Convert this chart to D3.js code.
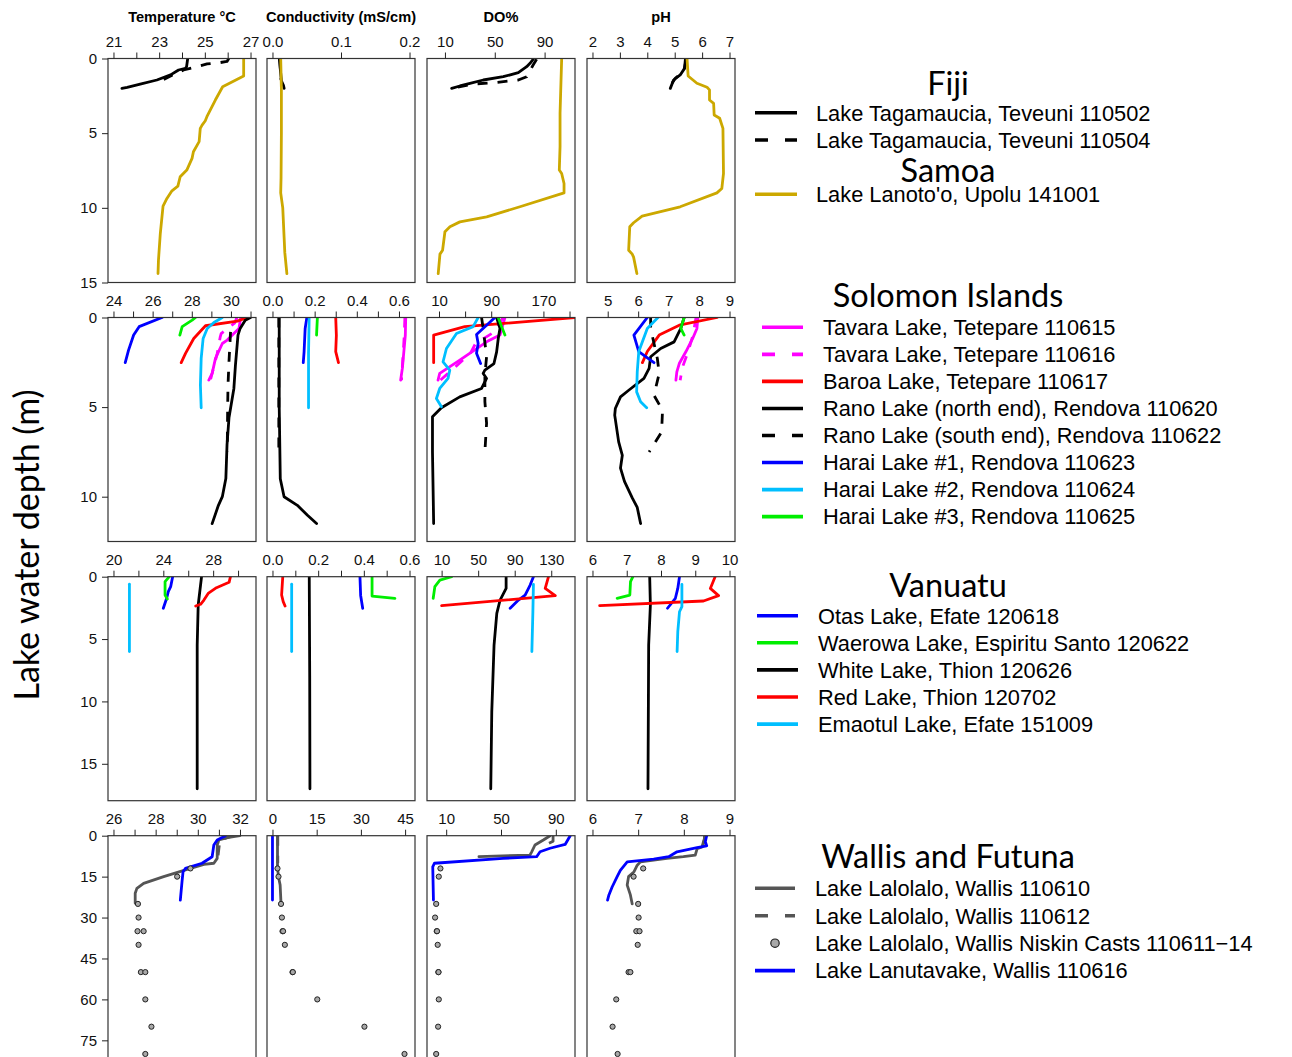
<!DOCTYPE html>
<html>
<head>
<meta charset="utf-8">
<script src="https://cdn.jsdelivr.net/npm/d3@7"></script>
<style>
  body { margin: 0; background: #fff; }
  svg { display: block; }
</style>
</head>
<body>
<svg id="chart" width="1292" height="1057"></svg>
<script>
// ---------------------------------------------------------------
// Depth profiles: each array holds [depth (m), value] pairs.
// Variables per lake: temperature (°C), conductivity, DO (%), pH
// ---------------------------------------------------------------

// ---- Fiji / Samoa ----
const tag502Temp = [[0,24.25],[0.55,24.2],[0.66,24.15],[0.77,23.85],[1.1,23.5],[1.44,22.9],[1.71,22.17],[1.93,21.6],[2.0,21.37]];
const tag502Cond = [[0,0.010],[1.5,0.013],[1.8,0.016],[2.0,0.017]];
const tag502DO   = [[0.05,80.9],[0.32,78.3],[0.55,75.6],[0.95,68.9],[1.22,56.8],[1.44,40.8],[1.66,30.1],[1.84,22],[2.0,15.4]];
const tag502pH   = [[0.05,5.39],[0.66,5.36],[1.1,5.2],[1.44,4.96],[2.0,4.84]];

const tag504Temp = [[0,26.05],[0.2,25.97],[0.27,25.68],[0.36,25.1],[0.55,24.66],[0.77,24.07],[1.1,23.6],[1.4,23.2]];
const tag504Cond = [[0,0.011],[1.4,0.012]];
const tag504DO   = [[0.05,83.6],[0.42,80.9],[1.22,75.6],[1.44,68.9],[1.6,51.5],[1.71,32.7],[1.93,19.4]];
const tag504pH   = [[0.05,5.42],[0.88,5.33],[1.33,5.02],[1.66,4.9]];

const lanotooTemp = [[0,26.7],[1.17,26.7],[1.89,25.78],[2.78,25.46],[3.9,25.09],[4.17,25.02],[4.46,24.88],[4.68,24.8],[5.57,24.75],[6.24,24.5],[6.69,24.44],[7.47,24.21],[7.92,23.92],[8.55,23.82],[8.86,23.56],[9.37,23.34],[9.89,23.17],[11.72,23.05],[13.5,22.97],[14.4,22.95]];
const lanotooCond = [[0,0.012],[2,0.013],[5,0.013],[8,0.0125],[9,0.012],[10,0.015],[12,0.017],[13,0.018],[14.4,0.021]];
const lanotooDO   = [[0,103.7],[3.67,102.4],[5.9,102.4],[7.47,101.8],[7.7,103.7],[8.37,105.6],[9.0,105.6],[9.93,70.2],[10.6,43.5],[10.94,22],[11.27,14],[11.6,10],[12.84,8.1],[13.1,6],[14.4,4.6]];
const lanotoopH   = [[0,5.45],[1.17,5.49],[1.66,5.81],[1.93,6.18],[2.1,6.27],[2.78,6.27],[3.0,6.42],[3.78,6.44],[4.0,6.64],[4.68,6.76],[7.7,6.78],[8.7,6.72],[9.0,6.54],[9.93,5.2],[10.56,3.81],[11.0,3.5],[11.27,3.36],[12.84,3.32],[13.1,3.45],[13.3,3.5],[14.4,3.62]];

// ---- Solomon Islands ----
const tav615Temp = [[0,30.5],[0.61,30.41],[1.26,29.81],[1.45,29.56],[2.28,29.21],[3.12,29.04],[3.49,28.87]];
const tav615Cond = [[0,0.632],[1,0.63],[2.84,0.616],[3.49,0.608]];
const tav615DO   = [[0,111],[0.98,103.4],[1.36,82.9],[2.38,41.8],[3.12,11.1],[3.49,8.5]];
const tav615pH   = [[0,7.96],[0.61,7.93],[1.17,7.79],[1.9,7.57],[2.57,7.35],[3.03,7.27],[3.49,7.24]];

const tav616Temp = [[0,30.3],[0.3,30.2],[0.9,29.5],[1.1,29.45],[2,29.3],[3.5,28.95]];
const tav616Cond = [[0,0.628],[1,0.625],[2,0.62],[3.5,0.612]];
const tav616DO   = [[0,108],[0.8,95],[1.45,66],[2.0,58],[2.6,40],[3.5,12]];
const tav616pH   = [[0,7.9],[1,7.8],[2.0,7.62],[2.8,7.45],[3.5,7.38]];

const baroaTemp = [[0,30.84],[0.2,30.33],[0.46,28.7],[1.17,28.1],[2.0,27.68],[2.52,27.46]];
const baroaCond = [[0,0.3],[1,0.303],[1.9,0.3],[2.52,0.313]];
const baroaDO   = [[0,218],[0.51,49.5],[0.98,1.8],[2.52,1.8]];
const baroapH   = [[0,8.59],[0.43,7.35],[0.98,6.69],[1.9,6.3],[2.52,6.14]];

const ranoNTemp = [[0,31.0],[0.15,30.73],[0.61,30.47],[0.98,30.36],[2.66,30.23],[3.96,30.15],[5.6,29.9],[7.1,29.8],[8.99,29.74],[10,29.56],[10.48,29.36],[11.5,29.04]];
const ranoNCond = [[0,0.032],[5,0.032],[9,0.037],[10,0.055],[10.48,0.118],[11.04,0.166],[11.5,0.209]];
const ranoNDO   = [[0,98.3],[0.61,103.4],[1.17,100.8],[1.92,98.3],[2.57,94.2],[2.94,80.3],[3.12,77.7],[3.4,82.9],[3.96,75.2],[4.43,41.8],[5.04,13.7],[5.54,0],[7.5,0],[11.5,1.8]];
const ranoNpH   = [[0,7.51],[0.61,7.4],[1.36,7.18],[1.73,6.74],[2.19,6.41],[2.84,6.36],[3.4,6.19],[4.06,5.69],[4.43,5.42],[5.08,5.25],[5.45,5.23],[6.94,5.36],[7.69,5.48],[8.4,5.42],[9.15,5.55],[10.08,5.81],[10.6,5.97],[11.5,6.08]];

const ranoSTemp = [[0.8,29.98],[2.47,29.9],[3.77,29.85],[5.27,29.83],[7.5,29.81]];
const ranoSCond = [[0,0.03],[7.5,0.03]];
const ranoSDO   = [[0,75.2],[0.61,77.7],[2.19,82.9],[3.21,80.3],[4.7,80.3],[5.9,82.9],[7.5,80.3]];
const ranoSpH   = [[0,6.41],[0.61,6.41],[2.29,6.63],[3.12,6.69],[4.34,6.52],[5.18,6.8],[6.39,6.77],[7.5,6.36]];

const harai1Temp = [[0,26.48],[0.51,25.31],[0.98,25.03],[1.82,24.77],[2.52,24.6]];
const harai1Cond = [[0,0.163],[0.61,0.155],[1.9,0.15],[2.52,0.146]];
const harai1DO   = [[0,95.7],[0.43,82.9],[0.95,67.5],[1.45,70],[2.0,67.5],[2.57,73.7]];
const harai1pH   = [[0,6.3],[0.98,5.86],[1.9,6.02],[2.52,6.52]];

const harai2Temp = [[0,29.56],[0.28,29.13],[0.61,28.79],[1.17,28.58],[2.28,28.48],[3.77,28.44],[5.04,28.48]];
const harai2Cond = [[0,0.174],[2,0.171],[5.04,0.171]];
const harai2DO   = [[0,70],[0.51,62.3],[0.89,36.8],[1.73,21.4],[2.47,16.2],[2.94,26.5],[3.4,23.8],[3.96,11.1],[4.52,6],[4.98,13.7]];
const harai2pH   = [[0,6.65],[0.61,6.3],[1.9,6.02],[3.03,5.97],[4.15,5.95],[4.7,6.08],[5.04,6.28]];

const harai3Temp = [[0,28.19],[0.15,28.02],[0.51,27.51],[0.98,27.39]];
const harai3Cond = [[0,0.213],[0.98,0.209]];
const harai3DO   = [[0,100.8],[0.51,106],[0.98,111]];
const harai3pH   = [[0,7.51],[0.61,7.4],[0.98,7.51]];

// ---- Vanuatu ----
const otasTemp = [[0,24.75],[0.8,24.59],[1.2,24.4],[1.73,24.27],[2.53,24.0]];
const otasCond = [[0,0.383],[1.5,0.386],[2.53,0.395]];
const otasDO   = [[0,110.5],[0.67,106.9],[1.47,101.4],[1.87,94.1],[2.53,85]];
const otaspH   = [[0,8.54],[0.94,8.49],[1.73,8.42],[2.53,8.19]];

const waerowaTemp = [[0,24.48],[0.4,24.14],[1.47,24.14],[1.79,24.32]];
const waerowaCond = [[0,0.436],[1.55,0.436],[1.74,0.536]];
const waerowaDO   = [[0,21],[0.27,8.1],[0.8,2.6],[1.73,0.8]];
const waerowapH   = [[0,7.18],[0.4,7.11],[1.47,7.09],[1.73,6.72]];

const whiteTemp = [[0,27.07],[2.27,26.8],[5.48,26.72],[17,26.72]];
const whiteCond = [[0,0.161],[8,0.163],[17,0.164]];
const whiteDO   = [[0,80.6],[0.94,80.6],[1.87,74],[2.94,70.4],[5.48,67.4],[10.83,64.9],[17,63.8]];
const whitepH   = [[0,7.67],[2.27,7.69],[5.48,7.64],[17,7.62]];

const redLakeTemp = [[0,29.39],[0.45,29.28],[0.88,28.27],[1.34,27.6],[1.87,27.26],[2.21,26.99],[2.35,26.6]];
const redLakeCond = [[0,0.045],[1.47,0.04],[2.0,0.047],[2.35,0.055]];
const redLakeDO   = [[0,127],[0.94,123.4],[1.52,134.4],[2.32,10]];
const redLakepH   = [[0,9.58],[0.94,9.44],[1.52,9.68],[1.95,9.24],[2.32,6.21]];

const emaotulTemp = [[0.6,21.28],[6.0,21.28]];
const emaotulCond = [[0.6,0.084],[6.0,0.084]];
const emaotulDO   = [[0.61,110.5],[2.81,109.9],[6.0,108.8]];
const emaotulpH   = [[0.61,8.61],[2.4,8.61],[2.81,8.54],[4.41,8.49],[6.0,8.47]];

// ---- Wallis and Futuna ----
const lalo610Temp = [[0,32.0],[0.73,31.4],[1.58,31.0],[3.41,30.92],[8.3,30.92],[10.1,30.76],[10.5,30.29],[12.0,29.65],[15.0,28.38],[17.45,27.43],[19.3,27.11],[21.1,27.03],[24.8,27.03]];
const lalo610Cond = [[0,1.7],[12,1.7],[15.7,2.15],[18.1,2.6],[24.8,2.9]];
const lalo610DO   = [[0,85.8],[1.58,80.9],[3.41,74.8],[5.9,72.4],[7.1,71.1],[7.7,33.9]];
const lalo610pH   = [[0,8.47],[2.2,8.43],[4.1,8.4],[4.8,8.29],[7.1,8.25],[7.7,7.99],[8.3,7.63],[9.6,7.05],[10.8,6.98],[13.2,6.91],[15.0,6.79],[18.1,6.76],[21.7,6.83],[25,6.87]];

const lalo612Temp = [[0,31.7],[1.5,31.05],[8,30.95],[10.5,30.85]];
const lalo612Cond = [[0,1.8],[10,1.8]];
const lalo612DO   = [[0,88],[2,88],[3,84],[4,80]];
const lalo612pH   = [[0,8.45],[1.5,8.45],[3.5,8.42]];

const lanutavakeTemp = [[0,31.32],[1.58,30.92],[3.41,30.76],[7.7,30.68],[8.9,30.44],[10.1,30.2],[11.4,29.65],[12.0,29.41],[13.2,29.3],[16.9,29.25],[23.6,29.17]];
const lanutavakeCond = [[0,0.0],[23.6,0.0]];
const lanutavakeDO   = [[0,100.5],[3.2,96.8],[4.6,85.8],[5.9,78.5],[7.7,76],[8.3,51.5],[10.1,1.4],[11.4,0.2],[23.6,0.7]];
const lanutavakepH   = [[0,8.5],[2.2,8.47],[3.7,8.5],[4.4,8.29],[5.9,7.85],[7.7,7.67],[8.6,7.34],[9.6,6.76],[12.7,6.61],[15.0,6.54],[18.8,6.43],[21.7,6.36],[23.6,6.33]];

// Niskin bottle casts, Lake Lalolalo
const niskinDepth = [12,15,25,30,35,35,40,50,50,60,70,80];
const niskinTemp  = [29.65,29.02,27.16,27.19,27.14,27.43,27.19,27.3,27.51,27.51,27.8,27.51];
const niskinCond  = [1.7,2.04,2.9,3.2,3.4,3.6,4.2,6.8,6.9,15.2,31.2,44.8];
const niskinDO    = [5.8,4.6,2.7,1.9,3.1,3.3,3.8,4.3,4.4,4.6,4.1,2.7];
const niskinpH    = [7.11,6.9,7.0,7.01,6.96,7.03,6.99,6.79,6.83,6.52,6.44,6.55];

// ---- Axes ----
const columnTitles = ['Temperature °C', 'Conductivity (mS/cm)', 'DO%', 'pH'];
const depthMax   = [15, 12.5, 17.96, 82.1];
const depthTicks = [[0,5,10,15],[0,5,10],[0,5,10,15],[0,15,30,45,60,75]];
const xLimits = [
  [[21,27],[0,0.2],[0,110],[2,7]],
  [[24,31],[0,0.65],[0,210],[4.5,9]],
  [[20,31],[0,0.6],[0,150],[6,10]],
  [[26,32.5],[0,46.5],[0,100],[6,9]]
];
const xTicks = [
  [[21,22,23,24,25,26,27],[0,0.1,0.2],[10,50,90],[2,3,4,5,6,7]],
  [[24,25,26,27,28,29,30,31],[0,0.1,0.2,0.3,0.4,0.5,0.6],[10,50,90,130,170,210],[5,6,7,8,9]],
  [[20,22,24,26,28,30],[0,0.1,0.2,0.3,0.4,0.5,0.6],[10,50,90,130],[6,7,8,9,10]],
  [[26,27,28,29,30,31,32],[0,15,30,45],[10,50,90],[6,7,8,9]]
];
const xTickLabels = [
  [[21,23,25,27],[0,0.1,0.2],[10,50,90],[2,3,4,5,6,7]],
  [[24,26,28,30],[0,0.2,0.4,0.6],[10,90,170],[5,6,7,8,9]],
  [[20,24,28],[0,0.2,0.4,0.6],[10,50,90,130],[6,7,8,9,10]],
  [[26,28,30,32],[0,15,30,45],[10,50,90],[6,7,8,9]]
];

// ---- Series (one legend entry each) ----
const C = { black:'#000000', gold:'#CCA800', magenta:'#FF00FF', red:'#FF0000', blue:'#0000FF', cyan:'#00BFFF', green:'#00EE00', grey:'#555555' };
const series = [
  {row:0, name:'Lake Tagamaucia, Teveuni 110502', color:C.black, dashed:false, data:[tag502Temp,tag502Cond,tag502DO,tag502pH]},
  {row:0, name:'Lake Tagamaucia, Teveuni 110504', color:C.black, dashed:true,  data:[tag504Temp,tag504Cond,tag504DO,tag504pH]},
  {row:0, name:"Lake Lanoto'o, Upolu 141001",    color:C.gold,  dashed:false, data:[lanotooTemp,lanotooCond,lanotooDO,lanotoopH]},

  {row:1, name:'Tavara Lake, Tetepare 110615', color:C.magenta, dashed:false, data:[tav615Temp,tav615Cond,tav615DO,tav615pH]},
  {row:1, name:'Tavara Lake, Tetepare 110616', color:C.magenta, dashed:true,  data:[tav616Temp,tav616Cond,tav616DO,tav616pH]},
  {row:1, name:'Baroa Lake, Tetepare 110617',  color:C.red,     dashed:false, data:[baroaTemp,baroaCond,baroaDO,baroapH]},
  {row:1, name:'Rano Lake (north end), Rendova 110620', color:C.black, dashed:false, data:[ranoNTemp,ranoNCond,ranoNDO,ranoNpH]},
  {row:1, name:'Rano Lake (south end), Rendova 110622', color:C.black, dashed:true,  data:[ranoSTemp,ranoSCond,ranoSDO,ranoSpH]},
  {row:1, name:'Harai Lake #1, Rendova 110623', color:C.blue,  dashed:false, data:[harai1Temp,harai1Cond,harai1DO,harai1pH]},
  {row:1, name:'Harai Lake #2, Rendova 110624', color:C.cyan,  dashed:false, data:[harai2Temp,harai2Cond,harai2DO,harai2pH]},
  {row:1, name:'Harai Lake #3, Rendova 110625', color:C.green, dashed:false, data:[harai3Temp,harai3Cond,harai3DO,harai3pH]},

  {row:2, name:'Otas Lake, Efate 120618', color:C.blue, dashed:false, data:[otasTemp,otasCond,otasDO,otaspH]},
  {row:2, name:'Waerowa Lake, Espiritu Santo 120622', color:C.green, dashed:false, data:[waerowaTemp,waerowaCond,waerowaDO,waerowapH]},
  {row:2, name:'White Lake, Thion 120626', color:C.black, dashed:false, data:[whiteTemp,whiteCond,whiteDO,whitepH]},
  {row:2, name:'Red Lake, Thion 120702', color:C.red, dashed:false, data:[redLakeTemp,redLakeCond,redLakeDO,redLakepH]},
  {row:2, name:'Emaotul Lake, Efate 151009', color:C.cyan, dashed:false, data:[emaotulTemp,emaotulCond,emaotulDO,emaotulpH]},

  {row:3, name:'Lake Lalolalo, Wallis 110610', color:C.grey, dashed:false, data:[lalo610Temp,lalo610Cond,lalo610DO,lalo610pH]},
  {row:3, name:'Lake Lalolalo, Wallis 110612', color:C.grey, dashed:true,  data:[lalo612Temp,lalo612Cond,lalo612DO,lalo612pH]},
  {row:3, name:'Lake Lalolalo, Wallis Niskin Casts 110611\u221214', points:true, data:[niskinTemp,niskinCond,niskinDO,niskinpH]},
  {row:3, name:'Lake Lanutavake, Wallis 110616', color:C.blue, dashed:false, data:[lanutavakeTemp,lanutavakeCond,lanutavakeDO,lanutavakepH]}
];

// ---- Layout ----
const svg = d3.select('#chart');
const panelW = 148, panelH = 224;
const colLeft = [108, 267, 427, 587];
const rowTop  = [58.5, 317.5, 576.7, 835.7];
const axisFont = '"Liberation Sans", Arial, Helvetica, sans-serif';
const titleFont = 'Lato, "Open Sans", sans-serif';
const LW = 2.8;

// R-style 4% padding around the x limits
const pad = ([a, b]) => [a - 0.04 * (b - a), b + 0.04 * (b - a)];

// Column titles
columnTitles.forEach((t, c) => {
  svg.append('text')
    .attr('x', colLeft[c] + panelW / 2).attr('y', 21.5)
    .attr('text-anchor', 'middle')
    .attr('font-family', axisFont).attr('font-weight', 'bold').attr('font-size', 14.6)
    .text(t);
});

// Y-axis title
svg.append('text')
  .attr('transform', 'translate(39,545) rotate(-90)')
  .attr('text-anchor', 'middle')
  .attr('font-family', titleFont).attr('font-size', 34)
  .text('Lake water depth (m)');

const defs = svg.append('defs');

for (let r = 0; r < 4; r++) {
  const y = d3.scaleLinear().domain([0, depthMax[r]]).range([rowTop[r], rowTop[r] + panelH]);
  for (let c = 0; c < 4; c++) {
    const x = d3.scaleLinear().domain(pad(xLimits[r][c])).range([colLeft[c], colLeft[c] + panelW]);
    const id = `clip-${r}-${c}`;
    defs.append('clipPath').attr('id', id)
      .append('rect').attr('x', colLeft[c]).attr('y', rowTop[r]).attr('width', panelW).attr('height', panelH);

    const g = svg.append('g');
    const plot = g.append('g').attr('clip-path', `url(#${id})`);

    const line = d3.line().x(d => x(d[1])).y(d => y(d[0]));
    series.filter(s => s.row === r && !s.points).forEach(s => {
      plot.append('path')
        .attr('d', line(s.data[c]))
        .attr('fill', 'none')
        .attr('stroke', s.color)
        .attr('stroke-width', LW)
        .attr('stroke-linejoin', 'round')
        .attr('stroke-linecap', s.dashed ? 'butt' : 'round')
        .attr('stroke-dasharray', s.dashed ? '10,10' : null);
    });
    series.filter(s => s.row === r && s.points).forEach(s => {
      plot.selectAll(null).data(s.data[c].map((v, i) => [niskinDepth[i], v]))
        .join('circle')
        .attr('cx', d => x(d[1])).attr('cy', d => y(d[0])).attr('r', 2.6)
        .attr('fill', '#A8A8A8').attr('stroke', '#222').attr('stroke-width', 1);
    });

    // frame
    g.append('rect')
      .attr('x', colLeft[c]).attr('y', rowTop[r]).attr('width', panelW).attr('height', panelH)
      .attr('fill', 'none').attr('stroke', '#333').attr('stroke-width', 1.2);

    // top axis
    const labelled = xTickLabels[r][c];
    const fmt = c === 1 && r < 3 ? d3.format('.1f') : d3.format('');
    const ax = g.append('g').attr('transform', `translate(0,${rowTop[r]})`)
      .call(d3.axisTop(x).tickValues(xTicks[r][c]).tickSize(6).tickPadding(5.5)
        .tickFormat(v => labelled.some(l => Math.abs(l - v) < 1e-9) ? fmt(v) : ''));
    ax.select('.domain').remove();
    ax.selectAll('line').attr('stroke', '#222');
    ax.selectAll('text').attr('font-family', axisFont).attr('font-size', 15).attr('fill', '#111');

    // left depth axis on first column
    if (c === 0) {
      const ay = g.append('g').attr('transform', `translate(${colLeft[0]},0)`)
        .call(d3.axisLeft(y).tickValues(depthTicks[r]).tickSize(6).tickPadding(5));
      ay.select('.domain').remove();
      ay.selectAll('line').attr('stroke', '#222');
      ay.selectAll('text').attr('font-family', axisFont).attr('font-size', 15).attr('fill', '#111');
    }
  }
}

// ---- Legend ----
const legendBlocks = [
  {titles:[{text:'Fiji', y:95},{text:'Samoa', y:181.7}], rows:[0], itemY:[112.7,140,194.3], x0:755, x1:797, tx:816},
  {titles:[{text:'Solomon Islands', y:306.7}], rows:[1], itemY:d3.range(8).map(i => 327.3 + i*27.05), x0:762, x1:803, tx:823},
  {titles:[{text:'Vanuatu', y:597}], rows:[2], itemY:d3.range(5).map(i => 615.7 + i*27.1), x0:757, x1:798, tx:818},
  {titles:[{text:'Wallis and Futuna', y:868}], rows:[3], itemY:d3.range(4).map(i => 888.3 + i*27.45), x0:755, x1:795, tx:815}
];
const lg = svg.append('g');
legendBlocks.forEach(b => {
  b.titles.forEach(t => {
    lg.append('text').attr('x', 948).attr('y', t.y).attr('text-anchor', 'middle')
      .attr('font-family', titleFont).attr('font-size', 32.5).attr('fill', '#000').text(t.text);
  });
  const items = series.filter(s => b.rows.includes(s.row));
  items.forEach((s, i) => {
    const yy = b.itemY[i];
    if (s.points) {
      lg.append('circle').attr('cx', (b.x0 + b.x1) / 2).attr('cy', yy).attr('r', 4.2)
        .attr('fill', '#A8A8A8').attr('stroke', '#222').attr('stroke-width', 1.2);
    } else {
      lg.append('line').attr('x1', b.x0).attr('x2', b.x1).attr('y1', yy).attr('y2', yy)
        .attr('stroke', s.color).attr('stroke-width', 3.6)
        .attr('stroke-dasharray', s.dashed ? '13,17' : null);
    }
    lg.append('text').attr('x', b.tx).attr('y', yy).attr('dy', '0.36em')
      .attr('font-family', axisFont).attr('font-size', 21.8).attr('fill', '#000').text(s.name);
  });
});
</script>
</body>
</html>
